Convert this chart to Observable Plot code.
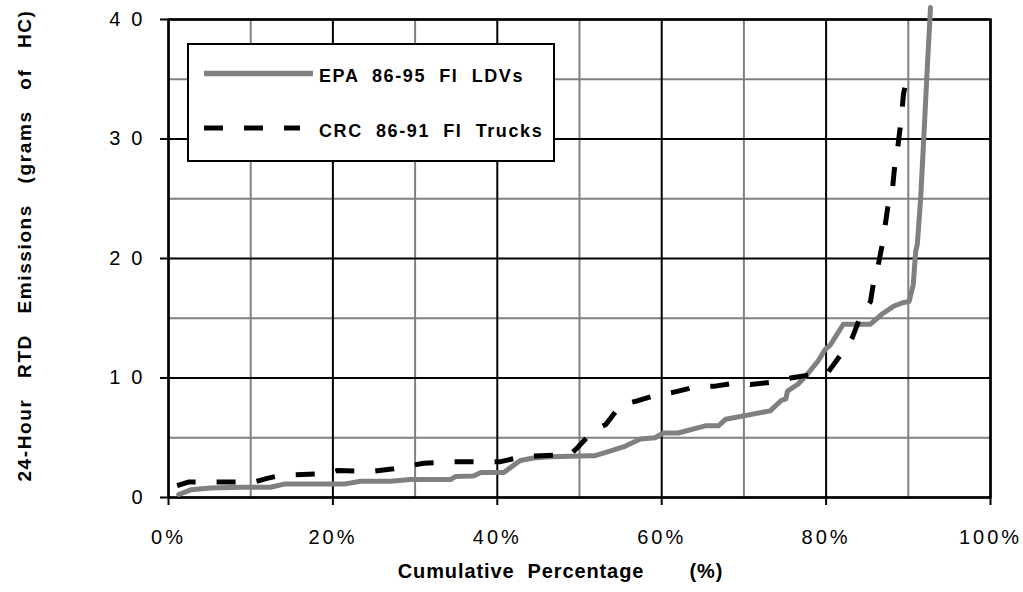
<!DOCTYPE html>
<html>
<head>
<meta charset="utf-8">
<script src="https://cdn.jsdelivr.net/npm/d3@7"></script>
<script src="https://cdn.jsdelivr.net/npm/@observablehq/plot@0.6"></script>
<style>
  body { margin: 0; background: #fff; font-family: Arial, "Liberation Sans", sans-serif; }
  #wrap { position: relative; width: 1023px; height: 592px; }
  #legend { position: absolute; left: 0; top: 0; }
</style>
</head>
<body>
<div id="wrap"></div>
<script>
// ---- Data ----
const seriesNames = ["EPA 86-95 FI LDVs", "CRC 86-91 FI Trucks"];

const epaPct = [1.25, 2.7, 5.1, 8.8, 12.4, 14.2, 21.5, 23.4, 27, 29.4, 34.3, 34.9, 37.1, 38, 40.8, 42.8, 44.4, 46.5, 51.3, 51.9, 53.8, 55.6, 57.4, 59.2, 60.2, 62, 65.3, 66.9, 67.8, 73.2, 74.5, 75.1, 75.3, 76.6, 77.7, 79, 79.9, 80.5, 82.1, 85.4, 86.9, 88.2, 89.3, 90.1, 90.6, 90.9, 91.1, 91.5, 91.9, 92.3, 92.7];
const epaGrams = [0.25, 0.64, 0.8, 0.86, 0.86, 1.14, 1.14, 1.36, 1.36, 1.5, 1.5, 1.75, 1.8, 2.1, 2.1, 3.1, 3.3, 3.4, 3.5, 3.5, 3.9, 4.3, 4.9, 5.0, 5.4, 5.4, 6.0, 6.0, 6.55, 7.25, 8.1, 8.25, 8.9, 9.5, 10.3, 11.4, 12.4, 12.75, 14.5, 14.5, 15.4, 16.0, 16.3, 16.4, 17.8, 20.6, 21.2, 25, 30.3, 35.8, 41];

const crcPct = [1.05, 2.5, 10.5, 12, 13.6, 19.3, 20.5, 24.9, 27.4, 31, 34.3, 40.4, 43.2, 48.9, 49.8, 51.7, 53.2, 55, 57.1, 59.5, 61.4, 64.4, 66.3, 68.7, 70.8, 73.6, 75.7, 78.5, 80.2, 82.1, 83.2, 84.2, 85.4, 85.8, 86.3, 86.9, 87.6, 88.1, 88.4, 88.7, 89.2, 89.4, 89.9];
const crcGrams = [1.0, 1.3, 1.3, 1.6, 1.85, 2.0, 2.25, 2.2, 2.4, 2.86, 3.0, 3.0, 3.45, 3.6, 4.2, 5.6, 6.1, 7.75, 8.1, 8.6, 8.8, 9.3, 9.3, 9.55, 9.45, 9.67, 10.0, 10.3, 10.45, 12.25, 13.4, 15.2, 16.4, 18.1, 19.3, 21.4, 24.75, 26, 28.1, 29.2, 32, 33.7, 35.4];

const xMajorTicks = [0, 20, 40, 60, 80, 100];
const xMinorTicks = [10, 30, 50, 70, 90];
const yMajorTicks = [0, 10, 20, 30, 40];
const yMinorTicks = [5, 15, 25, 35];

const xTitle = "Cumulative  Percentage       (%)";
const yTitle = "24-Hour   RTD   Emissions   (grams   of   HC)";

const epa = epaPct.map((x, i) => ({x, y: epaGrams[i]}));
const crc = crcPct.map((x, i) => ({x, y: crcGrams[i]}));

const GRAY = "#808080";

const chart = Plot.plot({
  width: 1023,
  height: 592,
  marginLeft: 168,
  marginRight: 33,
  marginTop: 19,
  marginBottom: 95,
  style: { fontFamily: "Arial, 'Liberation Sans', sans-serif", background: "#fff", overflow: "visible" },
  x: { domain: [0, 100] },
  y: { domain: [0, 40] },
  marks: [
    Plot.ruleX(xMinorTicks, { stroke: GRAY, strokeWidth: 2 }),
    Plot.ruleY(yMinorTicks, { stroke: GRAY, strokeWidth: 2 }),
    Plot.ruleX(xMajorTicks, { stroke: "#000", strokeWidth: 2 }),
    Plot.ruleY(yMajorTicks, { stroke: "#000", strokeWidth: 2 }),
    Plot.frame({ stroke: "#000", strokeWidth: 2.5 }),
    Plot.axisX(xMajorTicks, { tickSize: 8, tickPadding: 24, strokeWidth: 2, fontSize: 20, tickFormat: d => d + "%", label: null }),
    Plot.axisY(yMajorTicks, { tickSize: 8, tickPadding: 7, strokeWidth: 2, fontSize: 20, tickFormat: d => String(d), label: null }),
    Plot.line(epa, { x: "x", y: "y", stroke: GRAY, strokeWidth: 5, clip: false }),
    Plot.line(crc, { x: "x", y: "y", stroke: "#000", strokeWidth: 5, strokeDasharray: "19,21", strokeLinecap: "butt", clip: false }),
    Plot.text([xTitle], { text: d => d, frameAnchor: "bottom", dx: -19, dy: 80, fontSize: 20, fontWeight: "bold", textAnchor: "middle" }),
    Plot.text([yTitle], { text: d => d, frameAnchor: "left", textAnchor: "middle", rotate: -90, dx: -144, dy: -13, fontSize: 19, fontWeight: "bold" })
  ]
});

const wrap = document.getElementById("wrap");
wrap.appendChild(chart);

const svg = d3.select(chart);
svg.selectAll('g[aria-label="x-axis tick label"] text').style("letter-spacing", "3px");
svg.selectAll('g[aria-label="y-axis tick label"] text').style("letter-spacing", "11px");
svg.selectAll("text").filter(function() { return this.textContent === xTitle; }).style("letter-spacing", "0.9px");
svg.selectAll("text").filter(function() { return this.textContent === yTitle; }).style("letter-spacing", "1.6px");

// ---- Legend (overlay box inside the plot area) ----
const lg = d3.select(wrap).append("svg")
  .attr("id", "legend")
  .attr("width", 1023).attr("height", 592)
  .style("pointer-events", "none");
lg.append("rect").attr("x", 188).attr("y", 44).attr("width", 366).attr("height", 117)
  .attr("fill", "#fff").attr("stroke", "#000").attr("stroke-width", 2);
lg.append("line").attr("x1", 204).attr("x2", 313).attr("y1", 73.5).attr("y2", 73.5)
  .attr("stroke", GRAY).attr("stroke-width", 5.5);
lg.append("line").attr("x1", 204).attr("x2", 300).attr("y1", 128).attr("y2", 128)
  .attr("stroke", "#000").attr("stroke-width", 5).attr("stroke-dasharray", "19,21");
lg.selectAll("text.lab").data(seriesNames).join("text")
  .attr("class", "lab")
  .attr("x", 319)
  .attr("y", (d, i) => i === 0 ? 81.5 : 136.5)
  .attr("font-family", "Arial, 'Liberation Sans', sans-serif")
  .attr("font-size", 18)
  .attr("font-weight", "bold")
  .style("white-space", "pre")
  .style("letter-spacing", "1.6px")
  .text(d => d.split(" ").join("  "));
</script>
</body>
</html>
